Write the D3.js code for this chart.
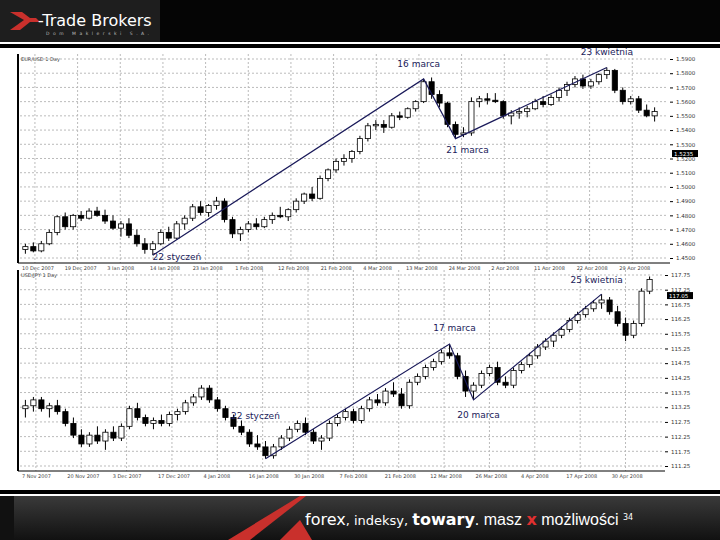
<!DOCTYPE html>
<html><head><meta charset="utf-8">
<script src="https://cdn.jsdelivr.net/npm/d3@7"></script>
<style>body{margin:0;background:#fff}svg{display:block}</style>
</head><body>
<svg id="c" width="720" height="540"></svg>
<script>
// EUR/USD daily candles [open, high, low, close]
const topCandles = [
[1.4560,1.4600,1.4530,1.4580],[1.4580,1.4610,1.4540,1.4550],[1.4550,1.4620,1.4540,1.4600],[1.4600,1.4700,1.4590,1.4680],
[1.4680,1.4800,1.4660,1.4790],[1.4790,1.4820,1.4700,1.4720],[1.4720,1.4810,1.4700,1.4800],[1.4800,1.4830,1.4760,1.4780],
[1.4780,1.4850,1.4770,1.4830],[1.4830,1.4860,1.4790,1.4800],[1.4800,1.4840,1.4740,1.4760],[1.4760,1.4800,1.4700,1.4710],
[1.4710,1.4760,1.4650,1.4740],[1.4740,1.4780,1.4640,1.4660],[1.4660,1.4700,1.4580,1.4600],[1.4600,1.4640,1.4530,1.4560],
[1.4560,1.4620,1.4520,1.4600],[1.4600,1.4700,1.4590,1.4680],[1.4680,1.4720,1.4620,1.4640],[1.4640,1.4760,1.4630,1.4740],
[1.4740,1.4800,1.4700,1.4780],[1.4780,1.4880,1.4760,1.4860],[1.4860,1.4900,1.4800,1.4820],[1.4820,1.4880,1.4790,1.4870],
[1.4870,1.4930,1.4840,1.4900],[1.4900,1.4920,1.4750,1.4770],[1.4770,1.4790,1.4640,1.4670],[1.4670,1.4720,1.4620,1.4700],
[1.4700,1.4760,1.4680,1.4740],[1.4740,1.4780,1.4700,1.4720],[1.4720,1.4790,1.4710,1.4770],[1.4770,1.4820,1.4740,1.4800],
[1.4800,1.4860,1.4780,1.4790],[1.4790,1.4850,1.4760,1.4840],[1.4840,1.4920,1.4820,1.4900],[1.4900,1.4960,1.4880,1.4950],
[1.4950,1.5000,1.4900,1.4920],[1.4920,1.5080,1.4910,1.5060],[1.5060,1.5130,1.5040,1.5120],[1.5120,1.5200,1.5100,1.5180],
[1.5180,1.5230,1.5150,1.5200],[1.5200,1.5260,1.5170,1.5250],[1.5250,1.5360,1.5230,1.5340],[1.5340,1.5450,1.5320,1.5430],
[1.5430,1.5470,1.5400,1.5440],[1.5440,1.5470,1.5380,1.5420],[1.5420,1.5520,1.5410,1.5500],[1.5500,1.5530,1.5470,1.5490],
[1.5490,1.5560,1.5480,1.5550],[1.5550,1.5610,1.5530,1.5600],[1.5600,1.5760,1.5590,1.5740],[1.5740,1.5770,1.5620,1.5650],
[1.5650,1.5680,1.5560,1.5590],[1.5590,1.5600,1.5420,1.5440],[1.5440,1.5460,1.5340,1.5370],[1.5370,1.5420,1.5350,1.5380],
[1.5380,1.5630,1.5360,1.5600],[1.5600,1.5640,1.5560,1.5620],[1.5620,1.5660,1.5580,1.5610],[1.5610,1.5660,1.5590,1.5600],
[1.5600,1.5610,1.5480,1.5500],[1.5500,1.5540,1.5440,1.5520],[1.5520,1.5560,1.5480,1.5530],[1.5530,1.5570,1.5490,1.5550],
[1.5550,1.5620,1.5540,1.5600],[1.5600,1.5640,1.5560,1.5580],[1.5580,1.5650,1.5570,1.5630],[1.5630,1.5700,1.5600,1.5680],
[1.5680,1.5740,1.5640,1.5720],[1.5720,1.5780,1.5700,1.5760],[1.5760,1.5790,1.5690,1.5710],[1.5710,1.5760,1.5690,1.5740],
[1.5740,1.5800,1.5720,1.5790],[1.5790,1.5840,1.5760,1.5820],[1.5820,1.5830,1.5660,1.5680],[1.5680,1.5700,1.5580,1.5600],
[1.5600,1.5640,1.5580,1.5620],[1.5620,1.5640,1.5520,1.5540],[1.5540,1.5580,1.5490,1.5500],[1.5500,1.5560,1.5460,1.5530]];
const topTicks = [1.45,1.46,1.47,1.48,1.49,1.50,1.51,1.52,1.53,1.54,1.55,1.56,1.57,1.58,1.59];
const topDates = ["10 Dec 2007","19 Dec 2007","3 Jan 2008","14 Jan 2008","23 Jan 2008","1 Feb 2008","12 Feb 2008","21 Feb 2008",
  "4 Mar 2008","13 Mar 2008","24 Mar 2008","2 Apr 2008","11 Apr 2008","22 Apr 2008","29 Apr 2008"];
// [candle index, which point: high/low, label]
const topTrend = [[16,"low","22 styczeń"],[50,"high","16 marca"],[54,"low","21 marca"],[73,"high","23 kwietnia"]];

const botCandles = [
[113.20,113.50,112.90,113.30],[113.30,113.60,113.10,113.50],[113.50,113.60,113.10,113.20],[113.20,113.40,112.90,113.30],
[113.30,113.50,113.00,113.10],[113.10,113.20,112.60,112.70],[112.70,112.90,112.20,112.30],[112.30,112.50,111.90,112.00],
[112.00,112.40,111.90,112.30],[112.30,112.60,112.00,112.10],[112.10,112.50,111.80,112.40],[112.40,112.60,112.10,112.20],
[112.20,112.70,112.10,112.60],[112.60,113.30,112.50,113.20],[113.20,113.40,112.80,112.90],[112.90,113.00,112.60,112.70],
[112.70,112.90,112.50,112.80],[112.80,113.00,112.60,112.70],[112.70,113.10,112.60,113.00],[113.00,113.20,112.80,113.10],
[113.10,113.50,113.00,113.40],[113.40,113.70,113.30,113.60],[113.60,114.00,113.50,113.90],[113.90,114.00,113.40,113.50],
[113.50,113.60,113.10,113.20],[113.20,113.30,112.80,112.90],[112.90,113.00,112.50,112.60],[112.60,112.80,112.30,112.40],
[112.40,112.50,111.90,112.00],[112.00,112.30,111.80,111.90],[111.90,112.10,111.50,111.60],[111.60,112.00,111.50,111.90],
[111.90,112.30,111.80,112.20],[112.20,112.60,112.10,112.50],[112.50,112.80,112.40,112.70],[112.70,112.90,112.30,112.40],
[112.40,112.50,112.00,112.10],[112.10,112.30,111.80,112.20],[112.20,112.80,112.10,112.70],[112.70,113.00,112.60,112.90],
[112.90,113.20,112.80,113.10],[113.10,113.20,112.70,112.80],[112.80,113.30,112.70,113.20],[113.20,113.60,113.10,113.50],
[113.50,113.70,113.30,113.40],[113.40,113.90,113.30,113.80],[113.80,114.10,113.60,113.70],[113.70,113.90,113.20,113.30],
[113.30,114.20,113.20,114.10],[114.10,114.40,114.00,114.30],[114.30,114.70,114.20,114.60],[114.60,114.90,114.50,114.80],
[114.80,115.20,114.70,115.10],[115.10,115.40,114.90,115.00],[115.00,115.10,114.20,114.30],[114.30,114.50,113.60,113.80],
[113.80,114.10,113.50,114.00],[114.00,114.50,113.90,114.40],[114.40,114.70,114.30,114.60],[114.60,114.80,114.00,114.10],
[114.10,114.30,113.90,114.00],[114.00,114.60,113.90,114.50],[114.50,114.80,114.40,114.70],[114.70,115.10,114.60,115.00],
[115.00,115.40,114.90,115.30],[115.30,115.60,115.20,115.50],[115.50,115.80,115.30,115.70],[115.70,116.00,115.60,115.90],
[115.90,116.30,115.80,116.20],[116.20,116.50,116.10,116.40],[116.40,116.70,116.30,116.60],[116.60,116.90,116.50,116.80],
[116.80,117.10,116.60,116.90],[116.90,117.00,116.40,116.50],[116.50,116.70,116.00,116.10],[116.10,116.30,115.50,115.70],
[115.70,116.20,115.60,116.10],[116.10,117.30,116.00,117.20],[117.20,117.70,117.10,117.60]];
const botTicks = [111.25,111.75,112.25,112.75,113.25,113.75,114.25,114.75,115.25,115.75,116.25,116.75,117.25,117.75];
const botDates = ["7 Nov 2007","20 Nov 2007","3 Dec 2007","17 Dec 2007","4 Jan 2008","16 Jan 2008","30 Jan 2008","7 Feb 2008",
  "21 Feb 2008","12 Mar 2008","26 Mar 2008","4 Apr 2008","17 Apr 2008","30 Apr 2008"];
const botTrend = [[30,"low","22 styczeń"],[53,"high","17 marca"],[56,"low","20 marca"],[72,"high","25 kwietnia"]];

const svg = d3.select("#c");
const font = "DejaVu Sans";

// header
svg.append("rect").attr("width",720).attr("height",42).attr("fill","#050505");
svg.append("rect").attr("width",160).attr("height",42).attr("fill","#1e1e1e");
svg.append("rect").attr("y",44).attr("width",720).attr("height",4).attr("fill","#000");
svg.append("path").attr("d","M10,12 L24,20 L10,30 L20,30 L30,22 L40,22 L36,18 L30,18 L22,12 Z").attr("fill","#c9302c");
svg.append("text").attr("x",38).attr("y",26).attr("fill","#fff").style("font-family",font).style("font-size","16px").text("-Trade Brokers");
svg.append("text").attr("x",46).attr("y",35).attr("fill","#bbb").style("font-family",font).style("font-size","4.5px").style("letter-spacing","3.5px").text("Dom Maklerski S.A.");

function chart(cfg){
  const {candles, ticks, dates, trend, x0, x1, y0, y1, note} = cfg;
  const g = svg.append("g");
  const x = d3.scaleBand().domain(d3.range(candles.length)).range([x0, x1]).padding(0.35);
  const y = d3.scaleLinear().domain([ticks[0], ticks[ticks.length-1]]).range([y1-5, y0+5]);
  g.append("rect").attr("x",x0-3).attr("y",y0).attr("width",x1-x0+12).attr("height",y1-y0).attr("fill","#fff");
  // grid
  g.selectAll(".hg").data(ticks).enter().append("line")
    .attr("x1",x0).attr("x2",x1+8).attr("y1",d=>y(d)).attr("y2",d=>y(d))
    .attr("stroke","#bbb").attr("stroke-dasharray","2,2");
  const dx = d3.scaleLinear().domain([0,dates.length]).range([x0,x1]);
  g.selectAll(".vg").data(dates).enter().append("line")
    .attr("x1",(d,i)=>dx(i+0.35)).attr("x2",(d,i)=>dx(i+0.35)).attr("y1",y0).attr("y2",y1)
    .attr("stroke","#bbb").attr("stroke-dasharray","2,2");
  g.append("line").attr("x1",x0-2).attr("x2",x0-2).attr("y1",y0).attr("y2",y1).attr("stroke","#000").attr("stroke-width",2);
  g.append("line").attr("x1",x0-2).attr("x2",x1+10).attr("y1",y1).attr("y2",y1).attr("stroke","#000");
  // right axis
  const ax = g.append("g").attr("transform",`translate(${x1+10},0)`)
    .call(d3.axisRight(y).tickValues(ticks).tickSize(3).tickFormat(cfg.fmt));
  ax.select(".domain").remove();
  ax.selectAll("text").style("font-family",font).style("font-size","5.5px").attr("fill","#333");
  // last price box
  g.append("rect").attr("x",x1+12).attr("y",y(cfg.mark)-3.5).attr("width",26).attr("height",7).attr("fill","#000");
  g.append("text").attr("x",x1+14).attr("y",y(cfg.mark)+2).attr("fill","#fff").style("font-family",font).style("font-size","5.5px").text(cfg.fmt(cfg.mark));
  // date labels
  g.selectAll(".dl").data(dates).enter().append("text")
    .attr("x",(d,i)=>dx(i)+2).attr("y",y1+7).style("font-family",font).style("font-size","5px").attr("fill","#444").text(d=>d);
  g.append("text").attr("x",x0+1).attr("y",y0+7).style("font-family",font).style("font-size","5px").attr("fill","#444").text(note);
  // candles
  const c = g.selectAll(".cd").data(candles).enter().append("g");
  c.append("line").attr("x1",(d,i)=>x(i)+x.bandwidth()/2).attr("x2",(d,i)=>x(i)+x.bandwidth()/2)
    .attr("y1",d=>y(d[1])).attr("y2",d=>y(d[2])).attr("stroke","#000");
  c.append("rect").attr("x",(d,i)=>x(i)).attr("width",x.bandwidth())
    .attr("y",d=>y(Math.max(d[0],d[3]))).attr("height",d=>Math.max(1,Math.abs(y(d[0])-y(d[3]))))
    .attr("fill",d=>d[3]>=d[0]?"#fff":"#000").attr("stroke","#000").attr("stroke-width",0.8);
  // trend lines
  const pts = trend.map(([i,k])=>[x(i)+x.bandwidth()/2, y(k==="high"?candles[i][1]:candles[i][2])]);
  g.append("path").attr("d",d3.line()(pts)).attr("fill","none").attr("stroke","#1a1a5a").attr("stroke-width",1.2);
  trend.forEach(([i,k,label],j)=>{
    const p = pts[j];
    g.append("text").attr("x",p[0]+cfg.off[j][0]).attr("y",p[1]+cfg.off[j][1]).attr("text-anchor","middle")
      .attr("fill","#1a1a5a").style("font-family",font).style("font-size","9px").text(label);
  });
}

chart({candles:topCandles, ticks:topTicks, dates:topDates, trend:topTrend, x0:20, x1:660, y0:54, y1:263,
  mark:1.5235, fmt:d3.format(".4f"), note:"EUR/USD 1 Day", off:[[24,5],[-5,-12],[12,14],[0,-13]]});
chart({candles:botCandles, ticks:botTicks, dates:botDates, trend:botTrend, x0:20, x1:655, y0:270, y1:471,
  mark:117.05, fmt:d3.format(".2f"), note:"USD/JPY 1 Day", off:[[-10,-40],[5,-13],[5,18],[-5,-11]]});

// footer
const grad = svg.append("defs").append("linearGradient").attr("id","fg").attr("x1",0).attr("x2",0).attr("y1",0).attr("y2",1);
grad.append("stop").attr("offset",0).attr("stop-color","#3a3a3a");
grad.append("stop").attr("offset",1).attr("stop-color","#111");
svg.append("rect").attr("y",490).attr("width",720).attr("height",4).attr("fill","#000");
svg.append("rect").attr("y",496).attr("width",720).attr("height",44).attr("fill","url(#fg)");
svg.append("rect").attr("y",496).attr("width",14).attr("height",44).attr("fill","#111");
svg.append("path").attr("d","M228,540 L300,496 L306,496 L250,540 Z").attr("fill","#c9302c");
svg.append("path").attr("d","M280,540 L300,520 L312,540 Z").attr("fill","#c9302c");
const ft = svg.append("text").attr("x",305).attr("y",525).attr("fill","#fff").style("font-family",font).style("font-size","16px");
ft.append("tspan").text("forex");
ft.append("tspan").style("font-size","13px").text(", indeksy, ");
ft.append("tspan").style("font-weight","bold").text("towary");
ft.append("tspan").style("font-family","Liberation Sans").text(". masz ");
ft.append("tspan").attr("fill","#e03030").style("font-weight","bold").text("x");
ft.append("tspan").style("font-family","Liberation Sans").text(" możliwości ");
ft.append("tspan").style("font-size","8px").attr("dy",-5).text("34");
</script>
</body></html>
